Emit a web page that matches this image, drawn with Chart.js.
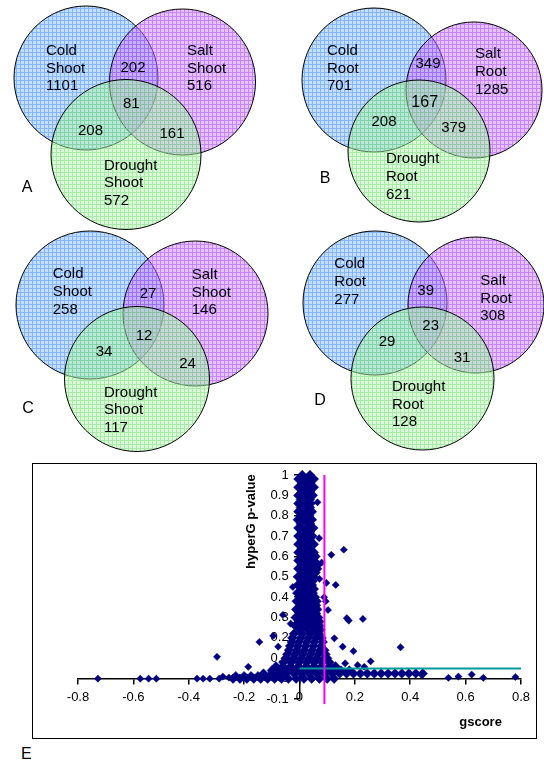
<!DOCTYPE html>
<html>
<head>
<meta charset="utf-8">
<script src="https://cdn.jsdelivr.net/npm/chart.js@4.4.1/dist/chart.umd.min.js"></script>
<style>
  body { margin: 0; background: #fff; width: 544px; height: 765px; position: relative; overflow: hidden; }
  #venn { position: absolute; left: 0; top: 0; }
  #box { position: absolute; left: 32px; top: 463px; width: 505px; height: 276px; border: 1px solid #000; box-sizing: border-box; }
  #scatter { position: absolute; left: 0; top: 0; }
  #letterE { position: absolute; left: 21px; top: 745px; font: 16px "Liberation Sans", Arial, sans-serif; }
</style>
</head>
<body>
<canvas id="venn" width="544" height="460"></canvas>
<div id="box"><canvas id="scatter" width="503" height="274"></canvas></div>
<div id="letterE">E</div>
<script>
// ---- Venn data ----
const panels = ["A", "B", "C", "D"];
const tissue = ["Shoot", "Root", "Shoot", "Root"];
const setNames = ["Cold", "Salt", "Drought"];
const onlyCounts = [[1101, 516, 572], [701, 1285, 621], [258, 146, 117], [277, 308, 128]];
// cold&salt, cold&drought, salt&drought
const pairCounts = [[202, 208, 161], [349, 208, 379], [27, 34, 24], [39, 29, 31]];
const allCounts = [81, 167, 12, 23];

// ---- scatter data (gscore vs hyperG p-value) ----
// dense core, one row per p-value level: [p, [gscores...]]
const coreRows = [
  [1.00, [0.01, 0.038]],
  [0.98, [-0.004, 0.024, 0.052]],
  [0.96, [0.01, 0.038]],
  [0.94, [-0.004, 0.024, 0.052]],
  [0.92, [0.01, 0.038]],
  [0.90, [-0.004, 0.024, 0.048]],
  [0.88, [0.005, 0.038]],
  [0.86, [-0.004, 0.024, 0.04]],
  [0.84, [0.005, 0.038]],
  [0.82, [-0.004, 0.024, 0.045]],
  [0.80, [0.005, 0.035]],
  [0.78, [-0.006, 0.022, 0.045]],
  [0.76, [0.005, 0.038]],
  [0.74, [-0.004, 0.024, 0.05]],
  [0.72, [0.008, 0.038]],
  [0.70, [-0.004, 0.024, 0.046]],
  [0.68, [0.008, 0.038]],
  [0.66, [-0.004, 0.024, 0.052]],
  [0.64, [0.008, 0.038]],
  [0.62, [-0.004, 0.024, 0.052]],
  [0.60, [0.008, 0.038, 0.058]],
  [0.58, [-0.004, 0.024, 0.052]],
  [0.56, [0.008, 0.038, 0.066]],
  [0.54, [-0.004, 0.024, 0.052, 0.064]],
  [0.52, [0.008, 0.038, 0.058]],
  [0.50, [-0.006, 0.022, 0.05]],
  [0.48, [0.006, 0.034, 0.048]],
  [0.46, [-0.006, 0.02, 0.045]],
  [0.44, [0.006, 0.034, 0.052]],
  [0.42, [-0.008, 0.02, 0.048]],
  [0.40, [0.004, 0.032, 0.056]],
  [0.38, [-0.01, 0.018, 0.046, 0.062]],
  [0.36, [0.004, 0.032, 0.06]],
  [0.34, [-0.012, 0.018, 0.046, 0.064]],
  [0.32, [0.004, 0.032, 0.06]],
  [0.30, [-0.014, 0.016, 0.044, 0.068]],
  [0.28, [0.0, 0.03, 0.058, 0.072]],
  [0.26, [-0.016, 0.014, 0.044, 0.072]],
  [0.24, [0.0, 0.03, 0.058, 0.076]],
  [0.22, [-0.02, 0.01, 0.04, 0.07]],
  [0.20, [-0.026, 0.004, 0.032, 0.06, 0.08]],
  [0.18, [-0.028, -0.002, 0.026, 0.054, 0.084]],
  [0.16, [-0.034, -0.006, 0.022, 0.05, 0.078]],
  [0.14, [-0.038, -0.01, 0.018, 0.046, 0.074, 0.09]],
  [0.12, [-0.044, -0.016, 0.012, 0.04, 0.068, 0.094]],
  [0.10, [-0.05, -0.022, 0.006, 0.034, 0.062, 0.09, 0.1]],
  [0.08, [-0.058, -0.03, -0.002, 0.026, 0.054, 0.082, 0.108]],
  [0.06, [-0.085, -0.06, -0.032, -0.004, 0.024, 0.052, 0.08, 0.108, 0.13]],
  [0.04, [-0.1, -0.072, -0.044, -0.016, 0.012, 0.04, 0.068, 0.096, 0.124, 0.15, 0.18]],
  [0.025, [-0.13, -0.1, -0.075, -0.05, -0.02, 0.006, 0.034, 0.062, 0.09, 0.118, 0.145, 0.17, 0.195, 0.22, 0.245, 0.27, 0.295, 0.32, 0.345, 0.37, 0.395, 0.42, 0.445]],
  [0.012, [-0.23, -0.2, -0.175, -0.15, -0.125, -0.1, -0.075]],
  [0.00, [-0.24, -0.215, -0.19, -0.165, -0.14, -0.115, -0.09, -0.065, -0.04, -0.012, 0.016, 0.044, 0.072, 0.1, 0.125]]
];
// scattered genes outside the core: [gscore, p]
const outliers = [
  [0.065, 0.866], [0.071, 0.69], [0.115, 0.608], [0.16, 0.633], [0.08, 0.57],
  [0.072, 0.49], [0.097, 0.47], [0.131, 0.46], [-0.024, 0.45], [0.089, 0.40],
  [0.095, 0.38], [0.103, 0.337], [0.171, 0.297], [0.178, 0.285], [0.229, 0.293],
  [-0.06, 0.313], [-0.032, 0.27], [-0.145, 0.18], [-0.095, 0.21], [-0.077, 0.157],
  [0.126, 0.198], [0.156, 0.157], [0.195, 0.135], [0.257, 0.085], [0.165, 0.075],
  [0.21, 0.066], [0.234, 0.058], [-0.185, 0.058], [-0.298, 0.107], [0.365, 0.154],
  [-0.728, 0.0], [-0.575, 0.0], [-0.545, 0.0], [-0.517, 0.0], [-0.37, 0.0],
  [-0.348, 0.0], [-0.324, 0.0], [-0.29, 0.0], [-0.277, 0.01], [-0.255, 0.005],
  [0.44, 0.02], [0.538, 0.004], [0.574, 0.01], [0.622, 0.02], [0.664, 0.004], [0.78, 0.008]
];
const gscoreCutoff = 0.09;
const pCutoff = 0.05;

// ---- Venn layout (canvas px): [cx, cy, r] for cold, salt, drought ----
const circleLayout = [
  [[86, 78, 72], [182.5, 82, 73], [126, 154.5, 75]],
  [[374, 80, 72], [474, 90, 68], [419, 151, 71]],
  [[90, 305, 74], [195.5, 313.5, 72.5], [137, 379, 72.5]],
  [[375, 303, 72], [476, 305, 68], [422.5, 378.5, 71.5]]
];
// left / baseline of first line for each set label
const setLabelPos = [
  [[46, 55], [187, 55], [104, 169.5]],
  [[327, 55], [475, 58.3], [386, 163.3]],
  [[52.7, 278.3], [191.7, 279], [104, 396.7]],
  [[334.3, 268.3], [480.3, 285], [392, 391]]
];
const pairPos = [
  [[133, 71.7], [90.5, 135], [172, 138.3]],
  [[428, 68.3], [384, 126], [453.7, 131.7]],
  [[148, 298.3], [104, 356], [187.5, 367.7]],
  [[425.7, 295], [387, 346], [462, 361.7]]
];
const centerPos = [[131.3, 108.3], [424.7, 106.7], [144, 340], [430.7, 330]];
const letterPos = [[27, 191.7], [325, 182.7], [28, 413], [320, 405]];

const FONT = '"Liberation Sans", Arial, sans-serif';

function hatch(base, line) {
  const c = document.createElement("canvas");
  c.width = 4; c.height = 4;
  const g = c.getContext("2d");
  g.fillStyle = base;
  g.fillRect(0, 0, 4, 4);
  g.fillStyle = line;
  g.fillRect(0, 0, 4, 1);
  g.fillRect(0, 1, 1, 3);
  return g.createPattern(c, "repeat");
}

const fills = [
  hatch("rgba(122,182,255,0.45)", "rgba(60,130,240,0.45)"),
  hatch("rgba(199,122,255,0.45)", "rgba(160,60,240,0.45)"),
  hatch("rgba(173,244,173,0.45)", "rgba(110,215,110,0.45)")
];

const vennText = {
  id: "vennText",
  afterDatasetsDraw(chart) {
    const { ctx, scales: { x, y } } = chart;
    ctx.save();
    ctx.fillStyle = "#000";
    ctx.textBaseline = "alphabetic";
    panels.forEach((p, i) => {
      ctx.font = "15px " + FONT;
      ctx.textAlign = "left";
      setNames.forEach((name, k) => {
        const [lx, ly] = setLabelPos[i][k];
        [name, tissue[i], String(onlyCounts[i][k])].forEach((t, j) => {
          ctx.fillText(t, x.getPixelForValue(lx), y.getPixelForValue(ly) + j * 17.7);
        });
      });
      ctx.textAlign = "center";
      pairCounts[i].forEach((n, k) => {
        ctx.fillText(String(n), x.getPixelForValue(pairPos[i][k][0]), y.getPixelForValue(pairPos[i][k][1]));
      });
      ctx.font = (i === 1 ? "16px " : "15px ") + FONT;
      ctx.fillText(String(allCounts[i]), x.getPixelForValue(centerPos[i][0]), y.getPixelForValue(centerPos[i][1]));
      ctx.font = "16px " + FONT;
      ctx.fillText(p, x.getPixelForValue(letterPos[i][0]), y.getPixelForValue(letterPos[i][1]));
    });
    ctx.restore();
  }
};

new Chart(document.getElementById("venn"), {
  type: "bubble",
  data: {
    datasets: setNames.map((name, k) => ({
      label: name,
      data: circleLayout.map(c => ({ x: c[k][0], y: c[k][1], r: c[k][2] })),
      backgroundColor: fills[k],
      borderColor: "#000",
      borderWidth: 1,
      clip: false,
      order: 3 - k
    }))
  },
  options: {
    responsive: false,
    animation: false,
    events: [],
    layout: { padding: 0, autoPadding: false },
    plugins: { legend: { display: false }, tooltip: { enabled: false } },
    scales: {
      x: { type: "linear", min: 0, max: 544, display: false },
      y: { type: "linear", min: 0, max: 460, reverse: true, display: false }
    }
  },
  plugins: [vennText]
});

// ---- scatter ----
const corePoints = [];
coreRows.forEach(([p, xs]) => xs.forEach(g => corePoints.push({ x: g, y: p })));
const outlierPoints = outliers.map(([g, p]) => ({ x: g, y: p }));

const axisTitles = {
  id: "axisTitles",
  afterDraw(chart) {
    const { ctx, scales: { x, y } } = chart;
    ctx.save();
    ctx.fillStyle = "#000";
    ctx.font = "bold 13px " + FONT;
    ctx.textAlign = "center";
    ctx.textBaseline = "middle";
    ctx.fillText("gscore", x.getPixelForValue(0.654), y.getPixelForValue(-0.214));
    ctx.translate(x.getPixelForValue(-0.174), y.getPixelForValue(0.771));
    ctx.rotate(-Math.PI / 2);
    ctx.fillText("hyperG p-value", 0, 0);
    ctx.restore();
  }
};

const navy = "#000080";

new Chart(document.getElementById("scatter"), {
  type: "scatter",
  data: {
    datasets: [
      {
        type: "line",
        data: [{ x: gscoreCutoff, y: -0.125 }, { x: gscoreCutoff, y: 1 }],
        borderColor: "#ff00ff",
        borderWidth: 2,
        pointRadius: 0,
        clip: false,
        order: 1
      },
      {
        type: "line",
        data: [{ x: 0, y: pCutoff }, { x: 0.8, y: pCutoff }],
        borderColor: "#009999",
        borderWidth: 2,
        pointRadius: 0,
        clip: false,
        order: 1
      },
      {
        data: corePoints,
        pointStyle: "rectRot",
        pointRadius: 4.8,
        backgroundColor: navy,
        borderColor: navy,
        borderWidth: 0.5,
        clip: false,
        order: 2
      },
      {
        data: outlierPoints,
        pointStyle: "rectRot",
        pointRadius: 3.6,
        backgroundColor: navy,
        borderColor: navy,
        borderWidth: 0.5,
        clip: false,
        order: 2
      }
    ]
  },
  options: {
    responsive: false,
    animation: false,
    events: [],
    layout: { padding: { left: 45, right: 12, top: 11, bottom: 39 } },
    plugins: { legend: { display: false }, tooltip: { enabled: false } },
    scales: {
      x: {
        type: "linear",
        min: -0.8,
        max: 0.8,
        position: { y: 0 },
        afterFit: s => { s.height = 0; },
        ticks: { stepSize: 0.2, color: "#000", font: { family: FONT, size: 13 }, padding: 6 },
        grid: { display: true, drawOnChartArea: false, drawTicks: true, tickLength: 5, color: "#000", lineWidth: 1.5 },
        border: { display: true, color: "#000", width: 1.5 }
      },
      y: {
        type: "linear",
        min: -0.1,
        max: 1,
        position: { x: 0 },
        z: 1,
        afterFit: s => { s.width = 0; },
        ticks: {
          stepSize: 0.1,
          color: "#000",
          font: { family: FONT, size: 13 },
          callback: v => String(Math.round(v * 10) / 10) + "   "
        },
        grid: { display: true, drawOnChartArea: false, drawTicks: true, tickLength: 5, color: "#000", lineWidth: 1.5 },
        border: { display: true, color: "#000", width: 1.5 }
      }
    }
  },
  plugins: [axisTitles]
});
</script>
</body>
</html>
